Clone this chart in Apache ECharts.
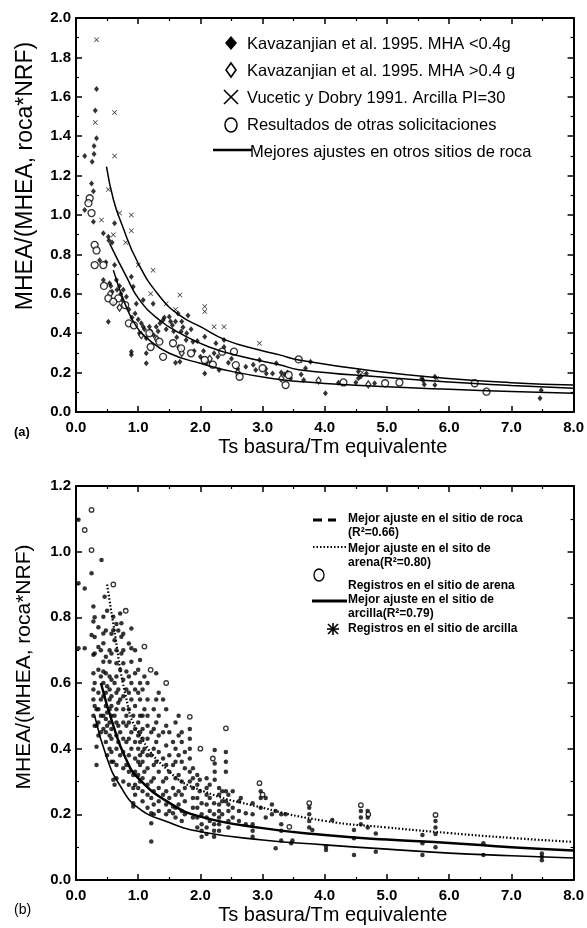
<!DOCTYPE html>
<html>
<head>
<meta charset="utf-8">
<script src="https://cdn.jsdelivr.net/npm/echarts@6/dist/echarts.min.js"></script>
<style>
  html, body { margin: 0; padding: 0; background: #fff; }
  #chart { width: 587px; height: 928px; }
</style>
</head>
<body>
<div id="chart"></div>
<script>
// ---------- Panel (a): normalised MHEA vs period ratio ----------
const kavLow = [
  [0.33,1.64],[0.31,1.53],[0.33,1.39],[0.29,1.35],[0.29,1.31],[0.14,1.30],[0.26,1.27],[0.25,1.16],[0.28,1.12],
  [0.14,1.025],[0.28,0.966],[0.62,0.958],[0.44,0.907],[0.52,0.89],[0.53,0.87],[0.58,0.86],[0.38,0.77],[0.48,0.76],
  [0.62,0.746],[0.44,0.67],[0.54,0.653],[0.65,0.67],[0.89,0.687],[0.92,0.636],[0.76,0.62],[0.81,0.585],[0.60,0.55],
  [0.97,0.55],[1.08,0.568],[1.24,0.55],[0.52,0.458],[1.08,0.433],[1.02,0.40],[1.18,0.433],[1.29,0.433],[1.40,0.467],
  [1.50,0.484],[1.64,0.50],[1.80,0.49],[1.13,0.374],[0.89,0.306],[0.89,0.29],[1.13,0.298],[1.13,0.247],[1.69,0.408],
  [1.77,0.365],[1.88,0.357],[1.67,0.255],[1.60,0.25],[2.07,0.382],[2.25,0.349],[2.22,0.298],[2.07,0.196],[2.30,0.213],
  [2.38,0.365],[2.38,0.33],[2.73,0.23],[2.95,0.264],[2.89,0.213],[3.06,0.196],[3.16,0.196],[3.22,0.247],[3.77,0.255],
  [3.69,0.222],[3.66,0.162],[4.01,0.095],[4.22,0.149],[4.54,0.205],[4.54,0.171],[4.67,0.196],[4.80,0.146],[5.56,0.171],
  [5.77,0.179],[5.77,0.137],[7.46,0.07],[7.48,0.11],[0.70,0.64],[0.72,0.60],[0.95,0.50],[1.00,0.47],[1.20,0.41],
  [1.35,0.45],[1.45,0.42],[1.55,0.44],[1.60,0.46],[1.70,0.46],[1.62,0.38],[1.65,0.33],[1.85,0.42],[1.90,0.31],
  [2.00,0.28],[2.10,0.25],[2.50,0.27],[2.60,0.22],[3.30,0.20],[3.40,0.20],[3.45,0.17],[4.50,0.15],[5.60,0.14],
  [0.56,0.64],[0.58,0.61],[0.66,0.62],[0.74,0.57],[0.85,0.52],[0.90,0.48],[1.05,0.45],[1.10,0.42],[1.25,0.39],
  [1.32,0.41],[1.42,0.48],[1.52,0.46],[1.57,0.41],[1.72,0.43],[1.78,0.40],[1.95,0.36],[2.05,0.31],[2.28,0.28],
  [2.45,0.25],[2.85,0.24],[3.05,0.22],[3.35,0.19],[3.62,0.19],[4.58,0.18],[5.58,0.16]
];
const kavHigh = [
  [0.55,0.60],[0.70,0.53],[1.05,0.39],[1.30,0.37],[1.70,0.30],[2.15,0.27],[2.60,0.20],[3.30,0.17],[3.90,0.16],[4.70,0.14]
];
const vucetic = [
  [0.33,1.89],[0.31,1.47],[0.62,1.52],[0.62,1.30],[0.52,1.13],[0.41,0.975],[0.70,1.01],[0.89,1.00],[0.89,0.92],
  [1.00,0.746],[1.24,0.72],[1.67,0.594],[2.07,0.535],[2.07,0.51],[2.22,0.433],[2.38,0.433],[2.95,0.349],[0.60,0.90],
  [1.20,0.60],[1.45,0.55],[1.60,0.52],[0.80,0.86],[3.60,0.26],[4.60,0.20],[5.80,0.17]
];
const otras = [
  [0.22,1.085],[0.20,1.06],[0.25,1.01],[0.30,0.848],[0.33,0.82],[0.30,0.746],[0.44,0.746],[0.52,0.577],[0.68,0.577],
  [0.79,0.543],[0.85,0.45],[0.93,0.44],[1.18,0.40],[1.34,0.357],[1.40,0.28],[1.56,0.349],[1.69,0.323],[1.85,0.298],
  [2.07,0.264],[2.35,0.306],[2.54,0.306],[2.57,0.238],[2.63,0.179],[3.00,0.222],[3.58,0.267],[3.37,0.137],[3.42,0.188],
  [4.97,0.146],[6.41,0.146],[6.60,0.103],[0.45,0.64],[0.60,0.56],[2.20,0.24],[1.20,0.33],[4.30,0.15],[5.20,0.15]
];
const fitRocaUpper = [
  [0.49,1.245],[0.60,1.08],[0.73,0.958],[1.00,0.755],[1.35,0.585],[1.67,0.49],[2.00,0.433],[2.41,0.365],
  [2.95,0.315],[3.27,0.29],[3.58,0.264],[4.86,0.205],[5.93,0.171],[7.00,0.149],[8.00,0.137]
];
const fitRocaMid = [
  [0.54,0.856],[0.81,0.687],[1.02,0.569],[1.34,0.467],[1.67,0.40],[2.14,0.33],[2.68,0.28],[3.27,0.24],
  [3.58,0.215],[5.00,0.175],[6.00,0.152],[7.00,0.135],[8.00,0.12]
];
const fitRocaLow = [
  [0.60,0.72],[0.80,0.54],[0.97,0.435],[1.18,0.365],[1.50,0.298],[2.00,0.247],[2.52,0.205],[3.27,0.165],
  [3.58,0.155],[4.00,0.145],[5.00,0.128],[6.00,0.115],[7.00,0.104],[8.00,0.095]
];

// ---------- Panel (b): records by site type ----------
// each entry: period ratio, then the record values stacked in that column
const arcillaCols = [
  [0.04,[1.097,0.904,0.706]],
  [0.14,[0.888,0.706]],
  [0.25,[0.934,0.746]],
  [0.28,[0.833,0.787,0.686,0.63,0.58,0.55,0.50]],
  [0.30,[0.80,0.74,0.69,0.60,0.53,0.47]],
  [0.33,[0.52,0.47,0.406,0.35]],
  [0.36,[0.77,0.71,0.64,0.57,0.52,0.48,0.44]],
  [0.40,[0.70,0.62,0.55,0.50,0.45]],
  [0.41,[0.975]],
  [0.44,[0.802,0.751,0.721,0.665,0.635,0.60,0.56,0.50,0.46]],
  [0.46,[0.863]],
  [0.48,[0.76,0.68,0.63,0.57,0.53,0.49,0.45,0.42]],
  [0.50,[0.82,0.59,0.51,0.47,0.38]],
  [0.54,[0.70,0.665,0.62,0.58,0.55,0.52,0.48,0.44,0.40]],
  [0.57,[0.75,0.69,0.61,0.56,0.53,0.50,0.46,0.43,0.39,0.36]],
  [0.60,[0.802,0.761,0.36,0.305]],
  [0.62,[0.73,0.60,0.50,0.29]],
  [0.65,[0.78,0.70,0.66,0.62,0.57,0.52,0.48,0.44,0.40,0.35,0.31]],
  [0.68,[0.76,0.58,0.54,0.47,0.42]],
  [0.71,[0.812,0.64,0.55,0.45,0.38]],
  [0.73,[0.782,0.741,0.69]],
  [0.76,[0.75,0.70,0.66,0.61,0.56,0.52,0.48,0.43,0.39,0.34,0.30]],
  [0.81,[0.635,0.58,0.50,0.47,0.42,0.35]],
  [0.85,[0.72,0.62,0.57,0.52,0.48,0.43,0.38,0.33,0.29]],
  [0.89,[0.766,0.706,0.665,0.60,0.55,0.45,0.40]],
  [0.92,[0.50,0.32,0.28,0.234,0.224]],
  [0.95,[0.70,0.63,0.58,0.53,0.46,0.42,0.37,0.33,0.29,0.26]],
  [1.00,[0.64,0.57,0.48,0.44,0.40,0.36,0.32,0.28]],
  [1.03,[0.67,0.60,0.55,0.50,0.45,0.42,0.38,0.35,0.30]],
  [1.07,[0.58,0.50,0.46,0.43,0.39,0.36,0.31,0.27,0.24]],
  [1.10,[0.62,0.52,0.40,0.33]],
  [1.15,[0.60,0.55,0.50,0.47,0.43,0.38,0.34,0.29,0.26,0.22]],
  [1.21,[0.45,0.38,0.30,0.25,0.203,0.173,0.117]],
  [1.25,[0.52,0.46,0.40,0.35,0.31,0.27,0.23,0.20]],
  [1.29,[0.63,0.55,0.48,0.42,0.36]],
  [1.33,[0.57,0.50,0.44,0.39,0.33,0.28,0.24,0.21]],
  [1.40,[0.55,0.45,0.37,0.30,0.26]],
  [1.45,[0.52,0.47,0.41,0.35,0.31,0.27,0.23,0.20]],
  [1.50,[0.45,0.38,0.33,0.25,0.21]],
  [1.56,[0.42,0.35,0.28,0.224,0.203]],
  [1.60,[0.48,0.40,0.36,0.31,0.26,0.22,0.19]],
  [1.65,[0.50,0.44,0.38,0.32,0.27,0.23]],
  [1.70,[0.45,0.42,0.36,0.30,0.26,0.21,0.18]],
  [1.75,[0.39,0.34,0.28,0.24,0.20]],
  [1.83,[0.46,0.43,0.40,0.37,0.33,0.30]],
  [1.88,[0.34,0.31,0.28,0.25,0.22,0.19]],
  [1.95,[0.32,0.29,0.25,0.22,0.19,0.16]],
  [1.99,[0.305,0.27]],
  [2.02,[0.234,0.20,0.17,0.15,0.132]],
  [2.10,[0.31,0.28,0.26,0.23,0.19,0.16,0.14]],
  [2.15,[0.29,0.25,0.21,0.18]],
  [2.22,[0.234,0.20,0.17,0.15,0.132]],
  [2.23,[0.396,0.355,0.33,0.305]],
  [2.30,[0.28,0.26,0.23,0.21,0.19,0.17,0.15]],
  [2.35,[0.27,0.24,0.20]],
  [2.41,[0.39,0.36,0.33,0.27,0.24]],
  [2.45,[0.26,0.23,0.21,0.18,0.16]],
  [2.52,[0.27,0.22,0.19]],
  [2.62,[0.24,0.21,0.18]],
  [2.65,[0.25]],
  [2.73,[0.203,0.17]],
  [2.84,[0.234,0.20,0.17,0.15,0.132]],
  [2.97,[0.27,0.25,0.22]],
  [3.05,[0.25,0.19]],
  [3.15,[0.23,0.20]],
  [3.21,[0.21,0.097]],
  [3.30,[0.20,0.17,0.15,0.12]],
  [3.37,[0.20]],
  [3.46,[0.112]],
  [3.48,[0.12]],
  [3.75,[0.22,0.20,0.18,0.16]],
  [3.80,[0.152]],
  [4.02,[0.101,0.091]],
  [4.12,[0.183]],
  [4.47,[0.152,0.127,0.076]],
  [4.58,[0.21,0.19,0.17]],
  [4.69,[0.21,0.19,0.16]],
  [4.82,[0.142,0.086]],
  [5.57,[0.137,0.112,0.076]],
  [5.78,[0.18,0.16,0.14,0.10]],
  [6.55,[0.112,0.076]],
  [7.49,[0.081,0.071,0.06]]
];
const arena = [
  [0.25,1.127],[0.14,1.066],[0.25,1.005],[1.10,0.711],[1.83,0.497],[2.41,0.462],[2.95,0.295],
  [3.43,0.162],[3.75,0.234],[4.58,0.228],[5.78,0.198],[0.60,0.90],[0.80,0.82],[1.20,0.64],[1.45,0.60],
  [2.00,0.40],[2.20,0.37],[3.00,0.26],[4.70,0.20]
];
const fitArena = [
  [0.50,0.90],[0.60,0.78],[0.80,0.56],[1.00,0.45],[1.50,0.33],[2.00,0.274],[3.00,0.22],[4.00,0.18],
  [5.00,0.16],[6.00,0.143],[7.00,0.128],[8.00,0.116]
];
const fitArcilla = [
  [0.40,0.60],[0.60,0.47],[0.80,0.37],[1.00,0.31],[1.50,0.235],[2.00,0.193],[3.00,0.158],[4.00,0.137],
  [5.00,0.123],[6.00,0.113],[7.00,0.10],[8.00,0.09]
];
const fitRoca = [
  [0.30,0.50],[0.50,0.37],[0.70,0.29],[1.00,0.22],[1.50,0.175],[2.00,0.147],[3.00,0.122],[4.00,0.107],
  [5.00,0.094],[6.00,0.082],[7.00,0.074],[8.00,0.067]
];

const arcilla = [];
arcillaCols.forEach(([x, ys]) => ys.forEach(y => arcilla.push([x, y])));

const FONT = 'Liberation Sans, Arial, sans-serif';
const YTITLE = 'MHEA/(MHEA, roca*NRF)';
const XTITLE = 'Ts basura/Tm equivalente';

function xAxes(gi) {
  const base = {
    type: 'value', gridIndex: gi, min: 0, max: 8, interval: 1,
    axisLine: { show: true, onZero: false, lineStyle: { color: '#000', width: 2 } },
    axisTick: { show: true, inside: true, length: 6, lineStyle: { color: '#000', width: 1.5 } },
    minorTick: { show: true, splitNumber: 2, length: 3, lineStyle: { color: '#000', width: 1.2 } },
    splitLine: { show: false }
  };
  return [
    Object.assign({}, base, {
      position: 'bottom',
      axisLabel: { color: '#000', fontFamily: FONT, fontWeight: 'bold', fontSize: 15, margin: 8,
                   formatter: v => v.toFixed(1) },
      name: XTITLE, nameLocation: 'middle', nameGap: 25,
      nameTextStyle: { color: '#000', fontFamily: FONT, fontSize: 20, padding: [0, 0, 0, 16] }
    }),
    Object.assign({}, base, { position: 'top', axisLabel: { show: false } })
  ];
}
function yAxes(gi, max) {
  const base = {
    type: 'value', gridIndex: gi, min: 0, max: max, interval: 0.2,
    axisLine: { show: true, onZero: false, lineStyle: { color: '#000', width: 2 } },
    axisTick: { show: true, inside: true, length: 6, lineStyle: { color: '#000', width: 1.5 } },
    minorTick: { show: true, splitNumber: 2, length: 3, lineStyle: { color: '#000', width: 1.2 } },
    splitLine: { show: false }
  };
  return [
    Object.assign({}, base, {
      position: 'left',
      axisLabel: { color: '#000', fontFamily: FONT, fontWeight: 'bold', fontSize: 15, margin: 5,
                   formatter: v => v.toFixed(1) }
    }),
    Object.assign({}, base, { position: 'right', axisLabel: { show: false } })
  ];
}

const XMARK = 'path://M0,1L1,0L5,4L9,0L10,1L6,5L10,9L9,10L5,6L1,10L0,9L4,5Z';
const black = '#000';

function fitLine(data, xi, yi, style) {
  return { type: 'line', xAxisIndex: xi, yAxisIndex: yi, data: data, smooth: true,
           showSymbol: false, silent: true, lineStyle: Object.assign({ color: black }, style), z: 3 };
}

// legend and vertical titles drawn with graphic primitives
const T = (text, x, y, font) => ({
  type: 'text', x: x, y: y, silent: true,
  style: { text: text, font: font, fill: black, verticalAlign: 'middle', textVerticalAlign: 'middle' }
});
const VT = (text, x, y, font) => ({
  type: 'text', x: x, y: y, rotation: Math.PI / 2, silent: true,
  style: { text: text, font: font, fill: black, align: 'center', textAlign: 'center',
           verticalAlign: 'middle', textVerticalAlign: 'middle' }
});
const topFont = '16.5px ' + FONT;
const botFont = 'bold 12px ' + FONT;
const graphics = [
  VT(YTITLE, 26, 176, '23px ' + FONT),
  VT(YTITLE, 24, 667, '21px ' + FONT),
  // panel (a) legend
  { type: 'polygon', shape: { points: [[231,36],[237,43],[231,50],[225,43]] }, style: { fill: black } },
  T('Kavazanjian et al. 1995. MHA <0.4g', 247, 44, topFont),
  { type: 'polygon', shape: { points: [[231,63],[236,70],[231,77],[226,70]] },
    style: { fill: '#fff', stroke: black, lineWidth: 1.6 } },
  T('Kavazanjian et al. 1995. MHA >0.4 g', 247, 71, topFont),
  { type: 'line', shape: { x1: 224, y1: 90, x2: 238, y2: 104 }, style: { stroke: black, lineWidth: 1.6 } },
  { type: 'line', shape: { x1: 238, y1: 90, x2: 224, y2: 104 }, style: { stroke: black, lineWidth: 1.6 } },
  T('Vucetic y Dobry 1991. Arcilla PI=30', 247, 98, topFont),
  { type: 'ellipse', shape: { cx: 231, cy: 125, rx: 6, ry: 7 }, style: { fill: 'none', stroke: black, lineWidth: 1.5 } },
  T('Resultados de otras solicitaciones', 247, 125, topFont),
  { type: 'line', shape: { x1: 213, y1: 150, x2: 252, y2: 150 }, style: { stroke: black, lineWidth: 2.5 } },
  T('Mejores ajustes en otros sitios de roca', 250, 152, topFont),
  // panel (b) legend
  { type: 'line', shape: { x1: 313, y1: 520, x2: 322, y2: 520 }, style: { stroke: black, lineWidth: 3 } },
  { type: 'line', shape: { x1: 328, y1: 520, x2: 336, y2: 520 }, style: { stroke: black, lineWidth: 3 } },
  T('Mejor ajuste en el sitio de roca', 348, 519, botFont),
  T('(R²=0.66)', 348, 533, botFont),
  { type: 'line', shape: { x1: 313, y1: 547, x2: 346, y2: 547 }, style: { stroke: black, lineWidth: 2, lineDash: [1.5, 2] } },
  T('Mejor ajuste en el sito de', 348, 549, botFont),
  T('arena(R²=0.80)', 348, 563, botFont),
  { type: 'ellipse', shape: { cx: 319, cy: 575, rx: 5, ry: 6 }, style: { fill: 'none', stroke: black, lineWidth: 1.3 } },
  T('Registros en el sitio de arena', 348, 586, botFont),
  { type: 'line', shape: { x1: 312, y1: 601, x2: 347, y2: 601 }, style: { stroke: black, lineWidth: 3 } },
  T('Mejor ajuste en el sitio de', 348, 600, botFont),
  T('arcilla(R²=0.79)', 348, 614, botFont),
  { type: 'line', shape: { x1: 328, y1: 624, x2: 338, y2: 634 }, style: { stroke: black, lineWidth: 1.6 } },
  { type: 'line', shape: { x1: 338, y1: 624, x2: 328, y2: 634 }, style: { stroke: black, lineWidth: 1.6 } },
  { type: 'line', shape: { x1: 333, y1: 623, x2: 333, y2: 635 }, style: { stroke: black, lineWidth: 1.6 } },
  { type: 'line', shape: { x1: 327, y1: 629, x2: 339, y2: 629 }, style: { stroke: black, lineWidth: 1.6 } },
  T('Registros en el sitio de arcilla', 348, 629, botFont),
  // panel tags
  T('(a)', 14, 432, 'bold 13px ' + FONT),
  T('(b)', 14, 910, '14px ' + FONT)
];

const chart = echarts.init(document.getElementById('chart'), null, { renderer: 'canvas' });
chart.setOption({
  backgroundColor: '#fff',
  animation: false,
  grid: [
    { left: 76, right: 12, top: 18, height: 394 },
    { left: 76, right: 12, top: 486, height: 394 }
  ],
  xAxis: xAxes(0).concat(xAxes(1)),
  yAxis: yAxes(0, 2.0).concat(yAxes(1, 1.2)),
  series: [
    { name: 'Kavazanjian et al. 1995. MHA <0.4g', type: 'scatter', xAxisIndex: 0, yAxisIndex: 0,
      data: kavLow, symbol: 'diamond', symbolSize: [5, 6], itemStyle: { color: black } },
    { name: 'Kavazanjian et al. 1995. MHA >0.4 g', type: 'scatter', xAxisIndex: 0, yAxisIndex: 0,
      data: kavHigh, symbol: 'diamond', symbolSize: [5, 7], itemStyle: { color: '#fff', borderColor: black, borderWidth: 1.3 } },
    { name: 'Vucetic y Dobry 1991. Arcilla PI=30', type: 'scatter', xAxisIndex: 0, yAxisIndex: 0,
      data: vucetic, symbol: XMARK, symbolSize: 5, itemStyle: { color: black } },
    { name: 'Resultados de otras solicitaciones', type: 'scatter', xAxisIndex: 0, yAxisIndex: 0,
      data: otras, symbol: 'circle', symbolSize: 7, itemStyle: { color: '#fff', borderColor: black, borderWidth: 1.3 } },
    fitLine(fitRocaUpper, 0, 0, { width: 1.5 }),
    fitLine(fitRocaMid, 0, 0, { width: 1.5 }),
    fitLine(fitRocaLow, 0, 0, { width: 1.5 }),

    { name: 'Registros en el sitio de arcilla', type: 'scatter', xAxisIndex: 2, yAxisIndex: 2,
      data: arcilla, symbol: 'circle', symbolSize: 4.5, itemStyle: { color: black } },
    { name: 'Registros en el sitio de arena', type: 'scatter', xAxisIndex: 2, yAxisIndex: 2,
      data: arena, symbol: 'circle', symbolSize: 4.5, itemStyle: { color: '#fff', borderColor: black, borderWidth: 1.3 } },
    fitLine(fitArena, 2, 2, { width: 2.2, type: [1.5, 2] }),
    fitLine(fitArcilla, 2, 2, { width: 2.5 }),
    fitLine(fitRoca, 2, 2, { width: 1.6 })
  ],
  graphic: graphics
});
</script>
</body>
</html>
